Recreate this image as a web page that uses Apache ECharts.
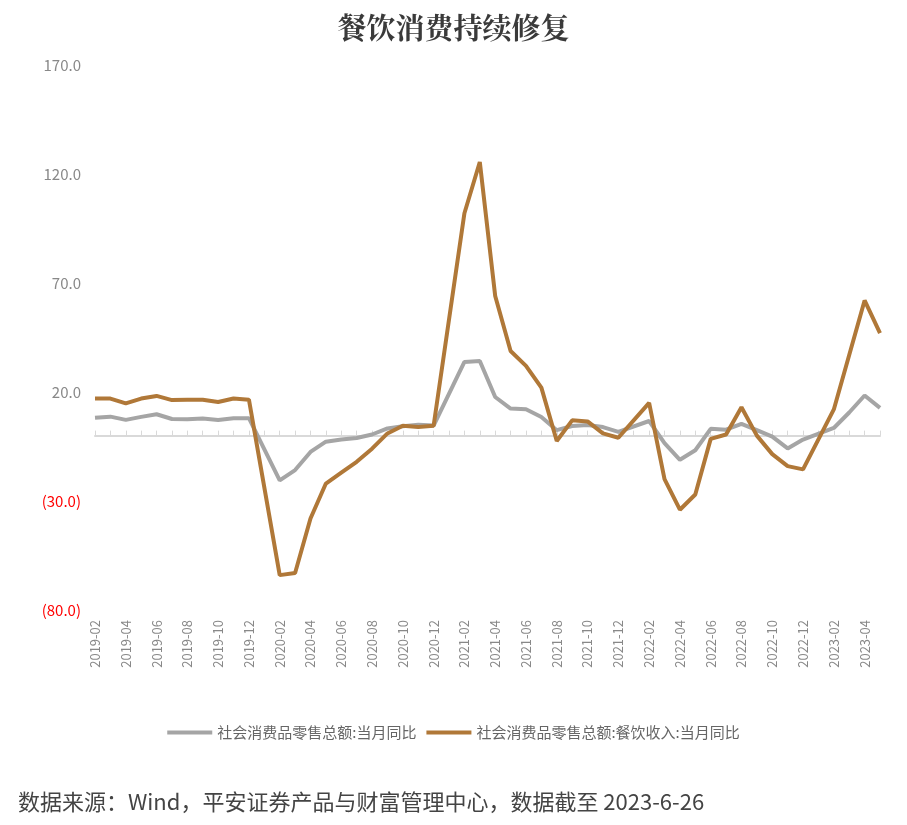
<!DOCTYPE html>
<html><head><meta charset="utf-8">
<script src="https://cdn.jsdelivr.net/npm/echarts@6/dist/echarts.min.js"></script>
<style>body{margin:0}#c{width:907px;height:825px}</style>
</head><body><div id="c"></div>
<script>
// 月份
var months = []
for (var y = 2019; y <= 2023; y++) {
	for (var m = 1; m <= 12; m++) {
		if (y == 2019 && m < 2) continue
		if (y == 2023 && m > 5) continue
		months.push(y + '-' + (m < 10 ? '0' + m : m))
	}
}
// 社会消费品零售总额:当月同比（1月无数据）
var retail = [8.2, 8.7, 7.2, 8.6, 9.8, 7.6, 7.5, 7.8, 7.2, 8.0, 8.0,
	null, -20.5, -15.8, -7.5, -2.8, -1.8, -1.1, 0.5, 3.3, 4.3, 5.0, 4.6,
	null, 33.8, 34.2, 17.7, 12.4, 12.1, 8.5, 2.5, 4.4, 4.9, 3.9, 1.7,
	null, 6.7, -3.5, -11.1, -6.7, 3.1, 2.7, 5.4, 2.5, -0.5, -5.9, -1.8,
	null, 3.5, 10.6, 18.4, 12.7]
// 社会消费品零售总额:餐饮收入:当月同比
var catering = [17.0, 17.0, 14.8, 17.0, 18.2, 16.3, 16.4, 16.4, 15.4, 17.0, 16.5,
	null, -64.0, -63.0, -38.0, -22.0, -17.0, -12.0, -6.0, 1.0, 4.5, 4.0, 4.5,
	null, 102.0, 125.5, 64.0, 38.8, 32.0, 22.0, -2.5, 7.0, 6.5, 1.0, -1.0,
	null, 15.0, -20.0, -34.0, -27.0, -1.5, 0.5, 13.0, 0.0, -8.5, -14.0, -15.5,
	null, 12.0, 37.0, 62.0, 47.0]

var chart = echarts.init(document.getElementById('c'))
var font = '"Noto Sans CJK SC", sans-serif'

var option = {
	animation: false,
	title: {
		text: '餐饮消费持续修复',
		left: 'center',
		top: 8,
		textStyle: { fontSize: 29, fontWeight: 'bold', color: '#3a3a3a', fontFamily: '"Noto Serif CJK SC", "Noto Sans CJK SC", serif' }
	},
	legend: {
		bottom: 80,
		left: 'center',
		itemWidth: 45,
		itemGap: 10,
		icon: 'rect',
		itemHeight: 4,
		textStyle: { fontSize: 15, color: '#666', fontFamily: font },
		data: ['社会消费品零售总额:当月同比', '社会消费品零售总额:餐饮收入:当月同比']
	},
	graphic: [{
		type: 'text',
		left: 18,
		bottom: 12,
		style: { text: '数据来源：Wind，平安证券产品与财富管理中心，数据截至 2023-6-26', fontSize: 22, fill: '#444', fontFamily: font }
	}],
	grid: { left: 95, right: 27, top: 65, bottom: 215 },
	xAxis: [{
		type: 'category',
		data: months,
		boundaryGap: false,
		axisTick: { show: false },
		axisLabel: { interval: 1, rotate: 90, color: '#888', fontSize: 13, fontFamily: font, margin: 10 },
		position: 'bottom',
		axisLine: { onZero: false, show: false }
	}, {
		type: 'category',
		data: months,
		boundaryGap: false,
		axisLine: { onZero: true, lineStyle: { color: '#d9d9d9', width: 2 } },
		axisTick: { show: true, interval: 0, length: 5, lineStyle: { color: '#d9d9d9' } },
		axisLabel: { show: false }
	}],
	yAxis: {
		min: -80, max: 170, interval: 50,
		axisLine: { show: false },
		axisTick: { show: false },
		splitLine: { show: false },
		axisLabel: {
			fontSize: 15, fontFamily: font, margin: 14,
			color: function(v) { return v < 0 ? '#ff0000' : '#888' },
			formatter: function(v) { return v < 0 ? '(' + (-v).toFixed(1) + ')' : v.toFixed(1) }
		}
	},
	series: [{
		name: '社会消费品零售总额:当月同比',
		type: 'line', data: retail, connectNulls: true, showSymbol: false,
		lineStyle: { color: '#a5a5a5', width: 4 }, itemStyle: { color: '#a5a5a5' }
	}, {
		name: '社会消费品零售总额:餐饮收入:当月同比',
		type: 'line', data: catering, connectNulls: true, showSymbol: false,
		lineStyle: { color: '#b07838', width: 4 }, itemStyle: { color: '#b07838' }
	}]
}
chart.setOption(option)
</script></body></html>
